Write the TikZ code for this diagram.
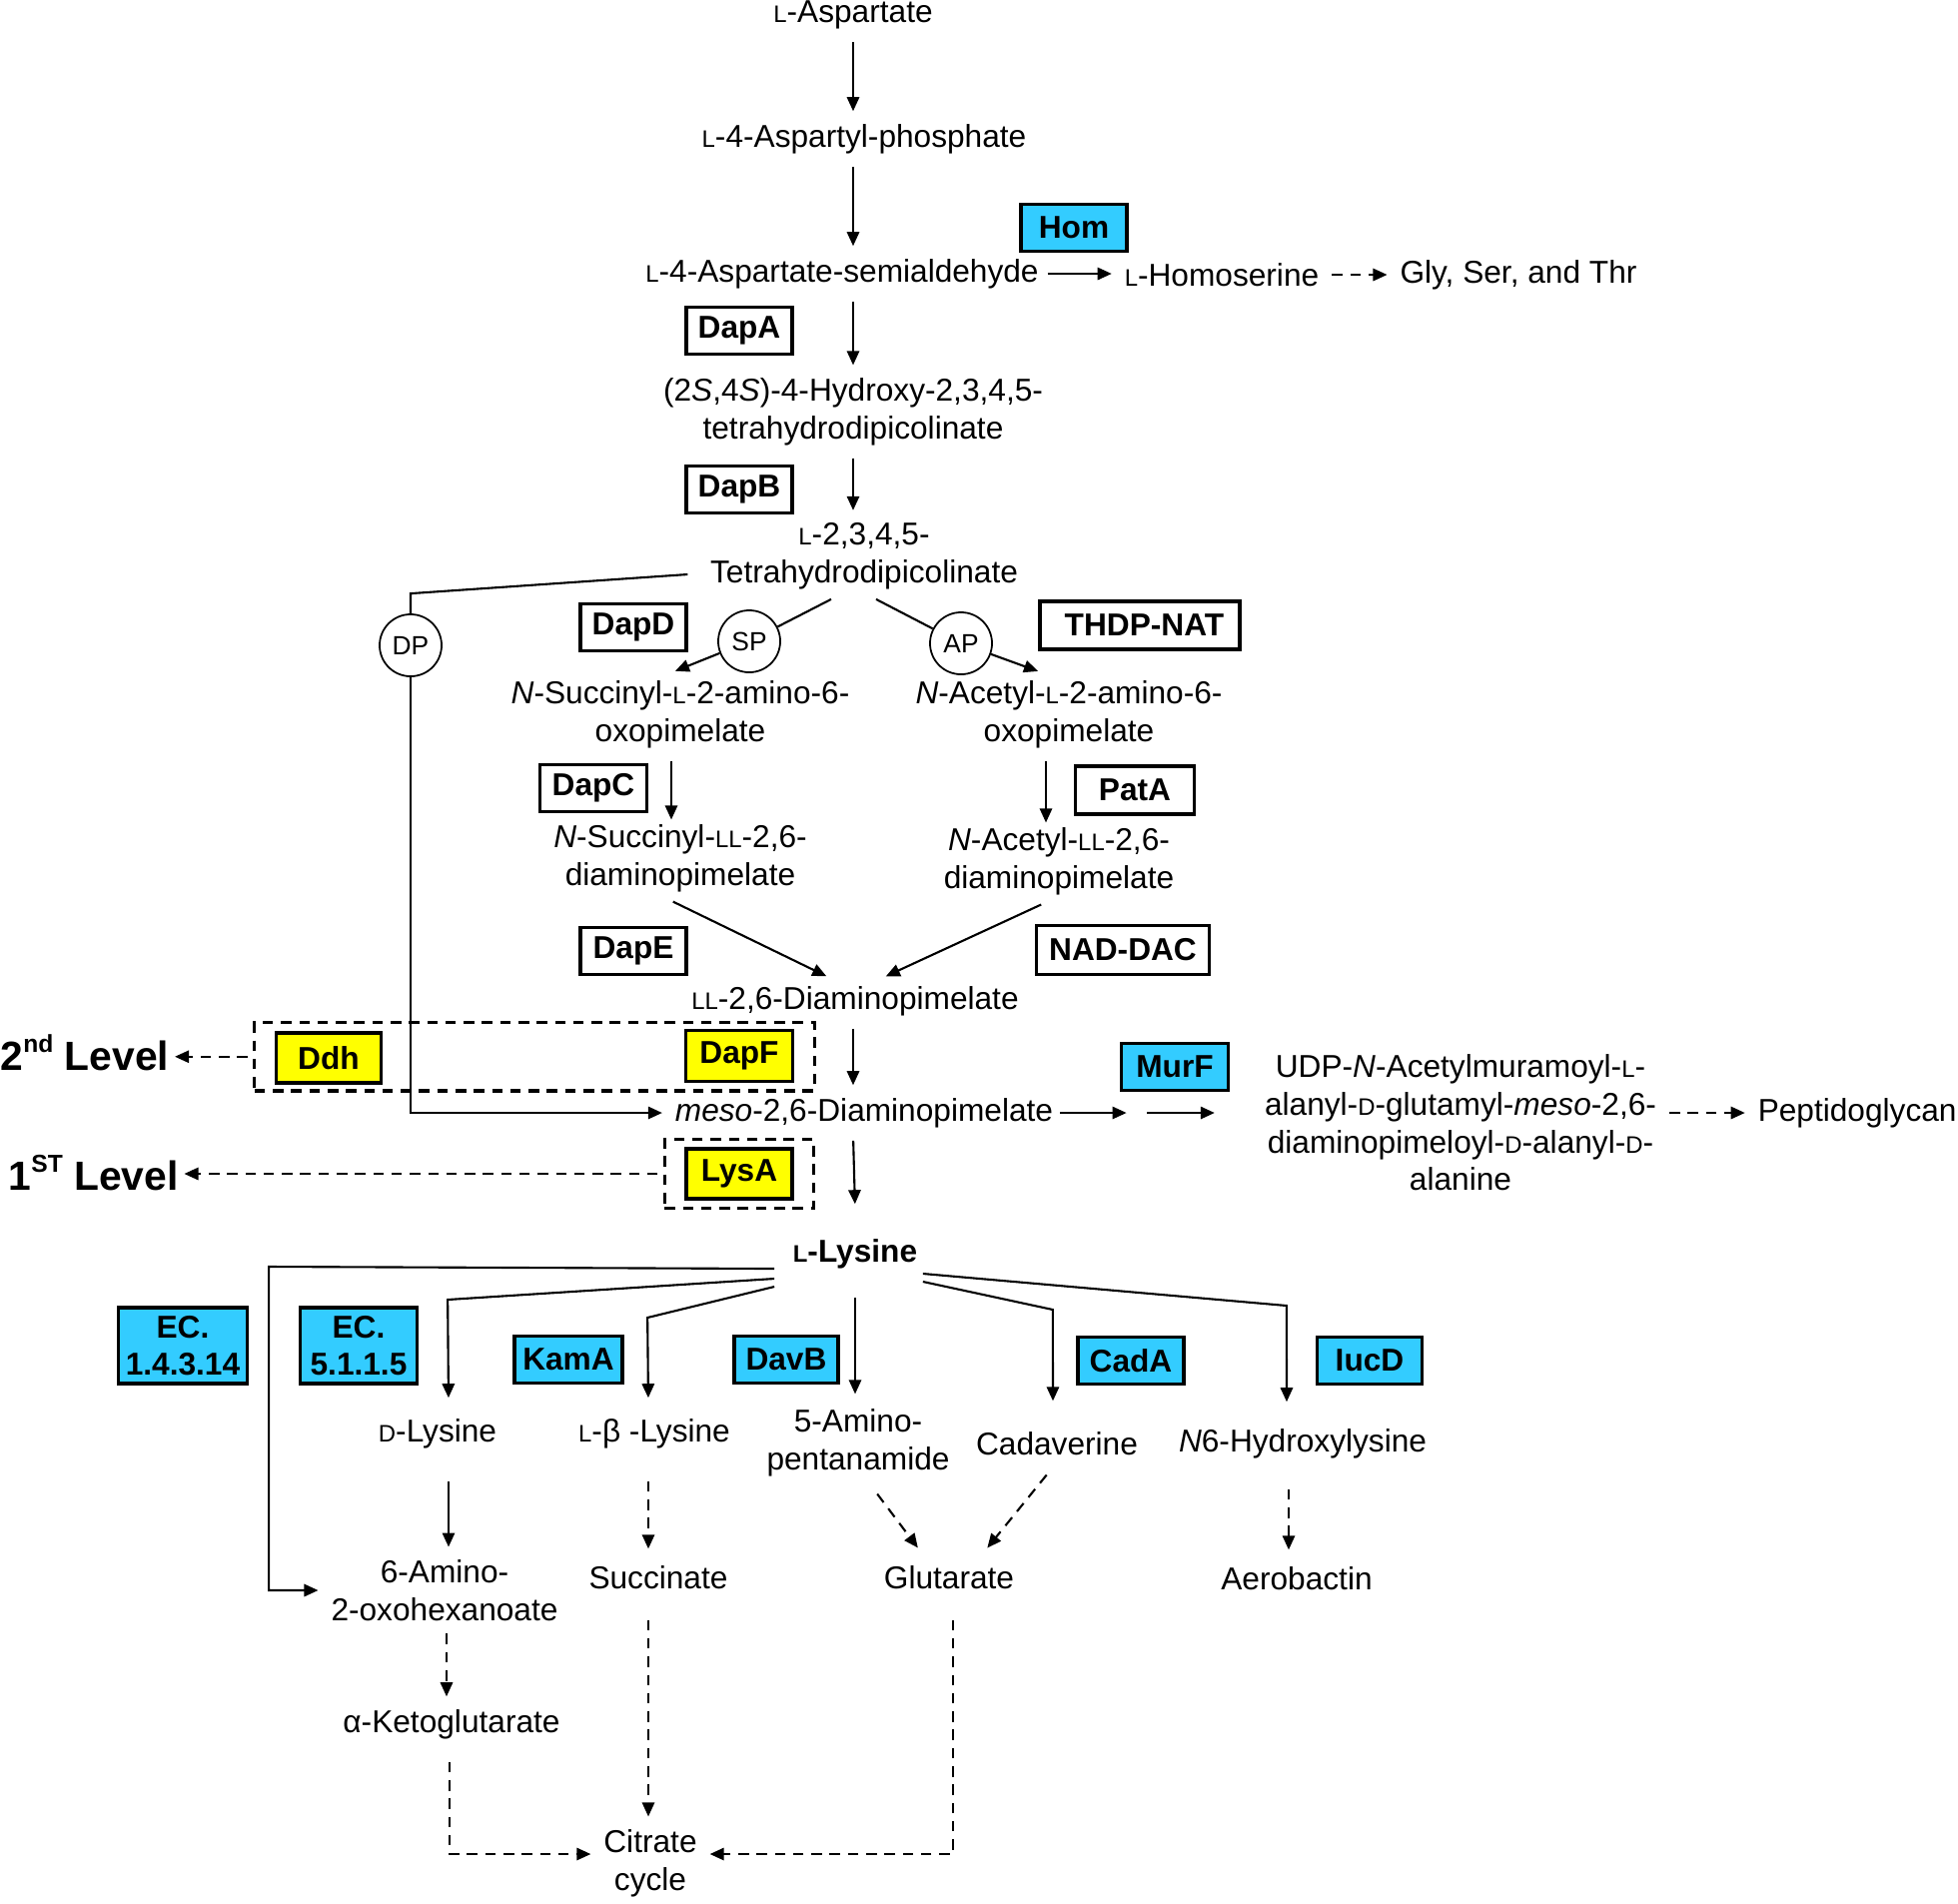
\documentclass[tikz,border=0pt]{standalone}
\usepackage{fontspec}
\setmainfont{Liberation Sans}
\usetikzlibrary{arrows.meta,calc,fit}

\definecolor{enzcyan}{HTML}{33CCFF}
\definecolor{enzyellow}{HTML}{FFFF00}

% small capital L and D
\newcommand{\scL}{{\fontsize{6.8}{8}\selectfont L}}
\newcommand{\scD}{{\fontsize{6.8}{8}\selectfont D}}
% superscript of the level labels
\newcommand{\lvlsup}[1]{\raisebox{0.85ex}{\fontsize{7}{8}\selectfont #1}}

\begin{document}
\begin{tikzpicture}[x=0.01cm, y=-0.01cm,
    met/.style={font=\fontsize{9}{10.7}\selectfont, align=center, inner sep=2pt},
    enz/.style={draw, line width=0.9pt, font=\fontsize{9}{10.7}\selectfont\bfseries, align=center,
        minimum width=1.06cm, minimum height=0.47cm, inner sep=1pt},
    enzc/.style={enz, fill=enzcyan},
    enzy/.style={enz, fill=enzyellow},
    route/.style={draw, circle, line width=0.5pt, minimum size=0.62cm, inner sep=0pt,
        font=\fontsize{7.5}{8}\selectfont},
    lvl/.style={font=\fontsize{11.6}{14}\selectfont\bfseries, inner sep=0pt, anchor=west},
    ln/.style={line width=0.6pt},
    arr/.style={ln, -{Triangle[length=4pt,width=3.5pt]}, shorten >=1.5pt, shorten <=1.5pt},
    carr/.style={arr, shorten <=0pt},
    darr/.style={arr, dash pattern=on 3pt off 2.2pt},
    dbox/.style={draw, line width=0.9pt, dash pattern=on 3pt off 2.2pt}
]
    \useasboundingbox (0,0) rectangle (1960,1905);

    % Main chain: aspartate to tetrahydrodipicolinate
    \node[met] (asp) at (854,15) {\scL-Aspartate};
    \node[met] (asphos) at (865,139) {\scL-4-Aspartyl-phosphate};
    \node[met] (asal) at (843,274) {\scL-4-Aspartate-semialdehyde};
    \node[met] (hser) at (1223,275) {\scL-Homoserine};
    \node[met] (gst) at (1520,275) {Gly, Ser, and Thr};
    \node[met] (hthdp) at (854,412) {(2\textit{S},4\textit{S})-4-Hydroxy-2,3,4,5-\\tetrahydrodipicolinate};
    \node[met] (thdp) at (865,557) {\scL-2,3,4,5-\\Tetrahydrodipicolinate};

    \node[enzc] (hom) at (1075,228) {Hom};
    \node[enz] (dapA) at (740,331) {DapA};
    \node[enz] (dapB) at (740,490) {DapB};

    \draw[arr] (asp.south) -- (asp.south |- asphos.north);
    \draw[arr] (asp |- asphos.south) -- (asp |- asal.north);
    \draw[arr] ($(asal.east)+(-4,0)$) -- (asal.east -| hser.west);
    \draw[darr] (hser.east) -- (hser.east -| gst.west);
    \draw[arr] (asp |- asal.south) -- (asp |- hthdp.north);
    \draw[arr] (asp |- hthdp.south) -- (asp |- thdp.north);

    % Three routes: DP, SP, AP
    \node[route] (dp) at (411,646) {DP};
    \node[route] (sp) at (750,642) {SP};
    \node[route] (ap) at (962,644) {AP};

    \node[enz] (dapD) at (634,628) {DapD};
    \node[enz, minimum width=2.0cm, minimum height=0.48cm] (thdpnat) at (1141,626) {\ THDP-NAT};
    \node[met] (sucao) at (681,715) {\textit{N}-Succinyl-\scL-2-amino-6-\\oxopimelate};
    \node[met] (acao) at (1070,715) {\textit{N}-Acetyl-\scL-2-amino-6-\\oxopimelate};
    \node[enz, minimum width=1.07cm] (dapC) at (594,789) {DapC};
    \node[enz, minimum width=1.19cm, minimum height=0.48cm] (patA) at (1136,791) {PatA};
    \node[met] (sucdap) at (681,859) {\textit{N}-Succinyl-\scL\scL-2,6-\\diaminopimelate};
    \node[met] (acdap) at (1060,862) {\textit{N}-Acetyl-\scL\scL-2,6-\\diaminopimelate};
    \node[enz] (dapE) at (634,952) {DapE};
    \node[enz, minimum width=1.73cm, minimum height=0.49cm] (naddac) at (1124,951) {NAD-DAC};
    \node[met] (lldap) at (856,1002) {\scL\scL-2,6-Diaminopimelate};

    \draw[ln] ($(thdp.west)+(-15,18)$) -- ($(dp.north)+(0,-20)$) -- (dp.north);
    \draw[ln] ($(thdp.south)+(-33,2)$) -- (sp);
    \draw[ln] ($(thdp.south)+(12,2)$) -- (ap);
    \draw[carr] (sp) -- ($(sucao.north)+(-10,0)$);
    \draw[carr] (ap) -- ($(acao.north)+(-26,0)$);
    \draw[arr] ($(sucao.south)+(-9,0)$) -- ($(sucdap.north)+(-9,8)$);
    \draw[arr] ($(acao.south)+(-23,0)$) -- ($(acdap.north)+(-13,8)$);
    \draw[arr] ($(sucdap.south)+(-12,0)$) -- ($(lldap.north)+(-24,0)$);
    \draw[arr] ($(acdap.south)+(-13,0)$) -- ($(lldap.north)+(26,0)$);

    % meso-DAP, peptidoglycan branch and control levels
    \node[met] (mesodap) at (865,1114) {\textit{meso}-2,6-Diaminopimelate};
    \node[enzy, minimum width=1.05cm, minimum height=0.50cm] (ddh) at (329,1059) {Ddh};
    \node[enzy, minimum width=1.07cm, minimum height=0.51cm] (dapF) at (740,1057) {DapF};
    \node[dbox, fit=(ddh)(dapF), inner xsep=5.7pt, inner ysep=1.8pt] (lvltwo) {};
    \node[lvl] (lvl2) at (0,1054) {2\lvlsup{nd} Level};
    \node[enzy, minimum height=0.50cm] (lysA) at (740,1175) {LysA};
    \node[dbox, fit=(lysA), inner xsep=5.7pt, inner ysep=2.2pt] (lvlone) {};
    \node[lvl] (lvl1) at (8,1174) {1\lvlsup{ST} Level};

    \node[enzc, minimum width=1.07cm] (murF) at (1176,1068) {MurF};
    \node[met] (udp) at (1462,1124) {UDP-\textit{N}-Acetylmuramoyl-\scL-\\alanyl-\scD-glutamyl-\textit{meso}-2,6-\\diaminopimeloyl-\scD-alanyl-\scD-\\alanine};
    \node[met, anchor=west] (pg) at (1752,1114) {Peptidoglycan};

    \draw[carr] (dp.south) |- (mesodap.west);
    \draw[arr] (lldap.south -| asp) -- (asp |- mesodap.north);
    \draw[arr] ($(mesodap.east)+(-6,0)$) -- ($(mesodap.east -| murF.west)+(12,0)$);
    \draw[arr] ($(mesodap.east -| murF.west)+(22,0)$) -- ($(mesodap.east -| murF.east)+(-10,0)$);
    \draw[darr] (udp.east |- pg.west) -- (pg.west);
    \draw[darr] (lvltwo.west) -- (lvltwo.west -| lvl2.east);
    \draw[darr] (lvlone.west) -- (lvlone.west -| lvl1.east);

    % Lysine and its degradation routes
    \node[met, font=\fontsize{9}{10.7}\selectfont\bfseries] (lys) at (856,1255) {\scL-Lysine};
    \draw[arr] (asp |- mesodap.south) -- ($(lys.north)+(0,-22)$);

    \node[enzc, minimum width=1.29cm, minimum height=0.76cm] (ec1) at (183,1347) {EC.\\1.4.3.14};
    \node[enzc, minimum width=1.17cm, minimum height=0.76cm] (ec2) at (359,1347) {EC.\\5.1.1.5};
    \node[enzc, minimum width=1.08cm] (kamA) at (569,1361) {KamA};
    \node[enzc, minimum width=1.04cm] (davB) at (787,1361) {DavB};
    \node[enzc] (cadA) at (1132,1362) {CadA};
    \node[enzc, minimum width=1.05cm] (iucD) at (1371,1362) {IucD};

    \node[met] (dlys) at (438,1435) {\scD-Lysine};
    \node[met] (blys) at (655,1435) {\scL-β -Lysine};
    \node[met] (apa) at (859,1444) {5-Amino-\\pentanamide};
    \node[met] (cad) at (1058,1445) {Cadaverine};
    \node[met] (hlys) at (1304,1445) {\textit{N}6-Hydroxylysine};

    \node[met] (aox) at (445,1592) {6-Amino-\\2-oxohexanoate};
    \node[met] (succ) at (659,1579) {Succinate};
    \node[met] (glut) at (950,1579) {Glutarate};
    \node[met] (aero) at (1298,1580) {Aerobactin};
    \node[met] (akg) at (452,1726) {α-Ketoglutarate};
    \node[met] (cit) at (651,1865) {Citrate\\cycle};

    \draw[carr] ($(lys.west)+(-11,15)$) -- ++(-506,-2) |- (aox.west);
    \draw[carr] ($(lys.west)+(-11,25)$) -- ++(-327,21) -- ($(dlys.north)+(11,-8)$);
    \draw[carr] ($(lys.west)+(-11,33)$) -- ++(-127,31) -- ($(blys.north)+(-6,-8)$);
    \draw[arr] ($(lys.south)+(0,16)$) -- ($(lys.south |- apa.north)+(0,-2)$);
    \draw[carr] ($(lys.east)+(-2,28)$) -- ++(130,28) -- ($(cad.north)+(-4,-18)$);
    \draw[carr] ($(lys.east)+(-2,20)$) -- ++(364,32) -- ($(hlys.north)+(-16,-14)$);

    \draw[arr] ($(dlys.south)+(11,20)$) -- ($(aox.north)+(4,0)$);
    \draw[darr] ($(blys.south)+(-6,20)$) -- ($(succ.north)+(-10,-4)$);
    \draw[darr] ($(apa.south)+(16,6)$) -- ($(glut.north)+(-28,-6)$);
    \draw[darr] ($(cad.south)+(-7,8)$) -- ($(glut.north)+(35,-6)$);
    \draw[darr] ($(hlys.south)+(-14,18)$) -- ($(aero.north)+(-8,-4)$);
    \draw[darr] ($(aox.south)+(2,0)$) -- ($(akg.north)+(-5,0)$);
    \draw[darr] ($(akg.south)+(-2,10)$) |- ($(cit.west)+(0,-9)$);
    \draw[darr] ($(succ.south)+(-10,18)$) -- ($(cit.north)+(-2,0)$);
    \draw[darr] ($(glut.south)+(4,18)$) |- ($(cit.east)+(0,-9)$);
\end{tikzpicture}
\end{document}
